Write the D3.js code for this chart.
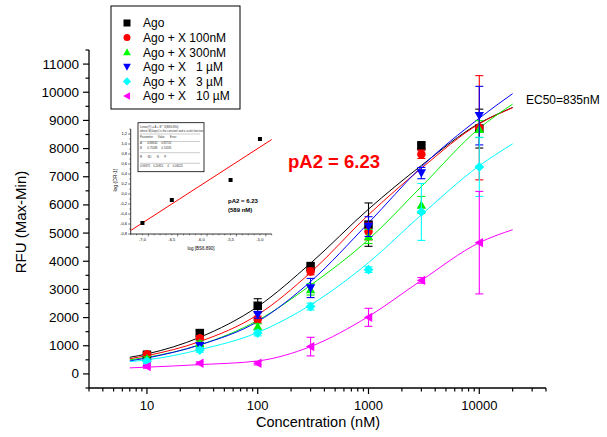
<!DOCTYPE html>
<html>
<head>
<meta charset="utf-8">
<script src="https://cdn.jsdelivr.net/npm/d3@7"></script>
<style>
  body { margin: 0; background: #fff; }
  text { font-family: "Liberation Sans", Arial, sans-serif; }
</style>
</head>
<body>
<div id="chart"></div>
<script>
// concentrations (nM) and measured means / error bars
const conc = [10, 30, 100, 300, 1000, 3000, 10000];
const seriesNames = ["Ago", "Ago + X 100nM", "Ago + X 300nM", "Ago + X   1 \u00b5M", "Ago + X   3 \u00b5M", "Ago + X   10 \u00b5M"];
const seriesColors = ["#000000", "#ff0000", "#00ee00", "#0000ff", "#00ffff", "#ff00ff"];
const seriesShapes = ["square", "circle", "triangleUp", "triangleDown", "diamond", "triangleLeft"];

const agoMean   = [680, 1450, 2420, 3810, 5300, 8100, 8710];
const x100Mean  = [700, 1270, 1930, 3640, 5060, 7800, 8740];
const x300Mean  = [550, 1090, 1680, 3000, 4880, 6000, 8690];
const x1uMean   = [380, 1000, 2100, 3050, 5230, 7130, 9170];
const x3uMean   = [450, 850, 1450, 2390, 3700, 5750, 7350];
const x10uMean  = [260, 380, 380, 970, 2010, 3320, 4660];

const agoErr   = [80, 100, 250, 150, 770, 150, 690];
const x100Err  = [60, 80, 120, 120, 300, 150, 1850];
const x300Err  = [60, 80, 100, 200, 250, 300, 300];
const x1uErr   = [80, 80, 120, 340, 350, 200, 1040];
const x3uErr   = [80, 80, 100, 120, 100, 1010, 1050];
const x10uErr  = [60, 50, 60, 330, 320, 100, 1820];

// fitted curves
const fitConc  = [7, 10, 30, 100, 300, 1000, 3000, 10000, 20000];
const agoFit   = [590, 710, 1300, 2390, 3930, 5850, 7400, 8900, 9460];
const x100Fit  = [540, 650, 1150, 2100, 3600, 5650, 7300, 8880, 9450];
const x300Fit  = [500, 590, 1030, 1900, 3150, 4770, 6650, 8720, 9580];
const x1uFit   = [460, 565, 1030, 1860, 3280, 5360, 7350, 9080, 9950];
const x3uFit   = [440, 500, 860, 1470, 2450, 3950, 5650, 7390, 8170];
const x10uFit  = [215, 240, 330, 460, 970, 2040, 3320, 4660, 5120];

const means = [agoMean, x100Mean, x300Mean, x1uMean, x3uMean, x10uMean];
const errs = [agoErr, x100Err, x300Err, x1uErr, x3uErr, x10uErr];
const fits = [agoFit, x100Fit, x300Fit, x1uFit, x3uFit, x10uFit];

const yTicks = d3.range(0, 11001, 1000);

// Schild inset
const schildX = [-7.0, -6.5, -5.5, -5.0];
const schildY = [-0.58, -0.12, 0.28, 1.10];
const schildLineX = [-7.2, -4.8];
const schildLineY = [-0.73, 1.09];
const insetXTicks = [-7.0, -6.5, -6.0, -5.5, -5.0];
const insetYTicks = [-0.8, -0.6, -0.4, -0.2, 0.0, 0.2, 0.4, 0.6, 0.8, 1.0, 1.2];
const tableLines = [
  "Linear(Y) = A + B * X(BS6.890)",
  "where B(slope) is the constant and a scale function",
  "Parameter      Value       Error",
  "A       4.68640     0.85702",
  "B       0.75588     0.13185",
  "R       SD       N       P",
  "0.96975    0.20851     4     0.03025"
];

const W = 607, H = 437;
const svg = d3.select("#chart").append("svg").attr("width", W).attr("height", H);

const x = d3.scaleLog().domain([3, 40000]).range([89, 546]);
const y = d3.scaleLinear().domain([-500, 11500]).range([388, 50]);

// axes
const xAxis = svg.append("g").attr("transform", "translate(0,388)");
xAxis.append("line").attr("x1", 89).attr("x2", 546).attr("stroke", "#000").attr("stroke-width", 1.3);
const xMinor = [];
[1, 10, 100, 1000, 10000].forEach(d => {
  for (let k = 1; k < 10; k++) {
    const v = d * k;
    if (v >= 3 && v <= 40000) xMinor.push(v);
  }
});
xAxis.selectAll(".xt").data(xMinor).enter().append("line")
  .attr("x1", d => x(d)).attr("x2", d => x(d))
  .attr("y1", 0).attr("y2", d => [10, 100, 1000, 10000].includes(d) ? 6 : 3.5)
  .attr("stroke", "#000").attr("stroke-width", 1.2);
xAxis.selectAll(".xl").data([10, 100, 1000, 10000]).enter().append("text")
  .attr("x", d => x(d)).attr("y", 22)
  .attr("text-anchor", "middle").style("font-size", "13px").text(d => d);

const yAxis = svg.append("g");
yAxis.append("line").attr("x1", 89).attr("x2", 89).attr("y1", 50).attr("y2", 388)
  .attr("stroke", "#000").attr("stroke-width", 1.3);
yAxis.selectAll(".ym").data(d3.range(-500, 11501, 500)).enter().append("line")
  .attr("x1", 89).attr("x2", d => d % 1000 === 0 ? 83 : 85.5)
  .attr("y1", d => y(d)).attr("y2", d => y(d))
  .attr("stroke", "#000").attr("stroke-width", 1.2);
yAxis.selectAll(".yl").data(yTicks).enter().append("text")
  .attr("x", 79).attr("y", d => y(d) + 4.5)
  .attr("text-anchor", "end").style("font-size", "13.5px").text(d => d);

svg.append("text").attr("x", 318).attr("y", 427).attr("text-anchor", "middle")
  .style("font-size", "14.5px").text("Concentration (nM)");
svg.append("text").attr("transform", "translate(26,222) rotate(-90)").attr("text-anchor", "middle")
  .style("font-size", "15px").text("RFU (Max-Min)");

// symbols
function drawMarker(g, shape, cx, cy, s, color) {
  let p;
  if (shape === "square") {
    p = g.append("rect").attr("x", cx - s / 2).attr("y", cy - s / 2).attr("width", s).attr("height", s);
  } else if (shape === "circle") {
    p = g.append("circle").attr("cx", cx).attr("cy", cy).attr("r", s / 2);
  } else {
    const h = s * 0.55;
    let pts;
    if (shape === "triangleUp") pts = [[0, -h], [h, h * 0.8], [-h, h * 0.8]];
    else if (shape === "triangleDown") pts = [[0, h], [h, -h * 0.8], [-h, -h * 0.8]];
    else if (shape === "triangleLeft") pts = [[-h, 0], [h * 0.8, -h], [h * 0.8, h]];
    else pts = [[0, -h * 1.05], [h * 1.05, 0], [0, h * 1.05], [-h * 1.05, 0]];
    p = g.append("polygon").attr("points", pts.map(q => [cx + q[0], cy + q[1]].join(",")).join(" "));
  }
  p.attr("fill", color);
}

// curves
const line = d3.line().x(d => x(d[0])).y(d => y(d[1])).curve(d3.curveMonotoneX);
fits.forEach((f, i) => {
  svg.append("path").datum(fitConc.map((c, j) => [c, f[j]]))
    .attr("d", line).attr("fill", "none")
    .attr("stroke", seriesColors[i]).attr("stroke-width", 1);
});

// error bars and markers
means.forEach((m, i) => {
  const g = svg.append("g");
  const c = seriesColors[i];
  conc.forEach((cv, j) => {
    const e = errs[i][j];
    const px = x(cv);
    g.append("line").attr("x1", px).attr("x2", px).attr("y1", y(m[j] - e)).attr("y2", y(m[j] + e))
      .attr("stroke", c).attr("stroke-width", 1.1);
    [m[j] - e, m[j] + e].forEach(v => {
      g.append("line").attr("x1", px - 4).attr("x2", px + 4).attr("y1", y(v)).attr("y2", y(v))
        .attr("stroke", c).attr("stroke-width", 1.1);
    });
  });
  conc.forEach((cv, j) => drawMarker(g, seriesShapes[i], x(cv), y(m[j]), 8.5, c));
});

// legend
const lg = svg.append("g");
lg.append("rect").attr("x", 111).attr("y", 6).attr("width", 129).attr("height", 103)
  .attr("fill", "#fff").attr("stroke", "#000").attr("stroke-width", 1);
seriesNames.forEach((n, i) => {
  const ly = 23 + i * 14.6;
  drawMarker(lg, seriesShapes[i], 127, ly, 7, seriesColors[i] === "#00ee00" ? "#00ff00" : seriesColors[i]);
  lg.append("text").attr("x", 143).attr("y", ly + 4.3).style("font-size", "12px")
    .style("white-space", "pre").attr("xml:space", "preserve").text(n);
});

svg.append("text").attr("x", 526).attr("y", 104).style("font-size", "12px").text("EC50=835nM");
svg.append("text").attr("x", 288).attr("y", 168).style("font-size", "18.5px")
  .style("font-weight", "bold").attr("fill", "#ff0000").text("pA2 = 6.23");

// inset Schild plot
const ix = d3.scaleLinear().domain([-7.2, -4.8]).range([130.7, 271.7]);
const iy = d3.scaleLinear().domain([-0.8, 1.3]).range([234, 129]);
const inset = svg.append("g");
inset.append("line").attr("x1", 130.7).attr("x2", 271.7).attr("y1", 234).attr("y2", 234).attr("stroke", "#000").attr("stroke-width", 0.8);
inset.append("line").attr("x1", 130.7).attr("x2", 130.7).attr("y1", 129).attr("y2", 234).attr("stroke", "#000").attr("stroke-width", 0.8);
inset.selectAll(".iyt").data(d3.range(-0.8, 1.31, 0.1)).enter().append("line")
  .attr("x1", 130.7).attr("x2", (d, k) => k % 2 === 0 ? 128 : 129.3)
  .attr("y1", d => iy(d)).attr("y2", d => iy(d)).attr("stroke", "#000").attr("stroke-width", 0.5);
inset.selectAll(".iyl").data(insetYTicks).enter().append("text")
  .attr("x", 127).attr("y", d => iy(d) + 1.3).attr("text-anchor", "end")
  .style("font-size", "4px").text(d => d.toFixed(1).replace(".", ","));
inset.selectAll(".ixt").data(d3.range(-7.2, -4.79, 0.1)).enter().append("line")
  .attr("x1", d => ix(d)).attr("x2", d => ix(d))
  .attr("y1", 234).attr("y2", (d, k) => (k + 2) % 5 === 0 ? 236.5 : 235.3).attr("stroke", "#000").attr("stroke-width", 0.5);
inset.selectAll(".ixl").data(insetXTicks).enter().append("text")
  .attr("x", d => ix(d)).attr("y", 241).attr("text-anchor", "middle")
  .style("font-size", "4px").text(d => d.toFixed(1).replace(".", ","));
inset.append("text").attr("x", 201).attr("y", 250).attr("text-anchor", "middle")
  .style("font-size", "4.5px").text("log [BS6.890]");
inset.append("text").attr("transform", "translate(117,180) rotate(-90)").attr("text-anchor", "middle")
  .style("font-size", "5px").text("log (DR-1)");
inset.append("line").attr("x1", ix(schildLineX[0])).attr("x2", ix(schildLineX[1]))
  .attr("y1", iy(schildLineY[0])).attr("y2", iy(schildLineY[1]))
  .attr("stroke", "#ff0000").attr("stroke-width", 1);
inset.selectAll(".ip").data(schildX).enter().append("rect")
  .attr("x", (d, k) => ix(d) - 2).attr("y", (d, k) => iy(schildY[k]) - 2)
  .attr("width", 4).attr("height", 4).attr("fill", "#000");
inset.append("text").attr("x", 228).attr("y", 203).style("font-size", "6px").style("font-weight", "bold").text("pA2 = 6.23");
inset.append("text").attr("x", 228).attr("y", 211.5).style("font-size", "6px").style("font-weight", "bold").text("(589 nM)");

// results table
const tb = inset.append("g");
tb.append("rect").attr("x", 138).attr("y", 122.7).attr("width", 66).attr("height", 49)
  .attr("fill", "#fff").attr("stroke", "#000").attr("stroke-width", 0.8);
const tableY = [127.5, 131.5, 138, 144, 148.5, 157.5, 167];
tableLines.forEach((t, k) => {
  tb.append("text").attr("x", 140).attr("y", tableY[k]).style("font-size", "2.8px")
    .attr("fill", "#333").attr("xml:space", "preserve").text(t);
});
[134, 141.5, 152.7, 163.3].forEach(ly => {
  tb.append("line").attr("x1", 140).attr("x2", 200).attr("y1", ly).attr("y2", ly)
    .attr("stroke", "#555").attr("stroke-width", 0.3);
});
</script>
</body>
</html>
